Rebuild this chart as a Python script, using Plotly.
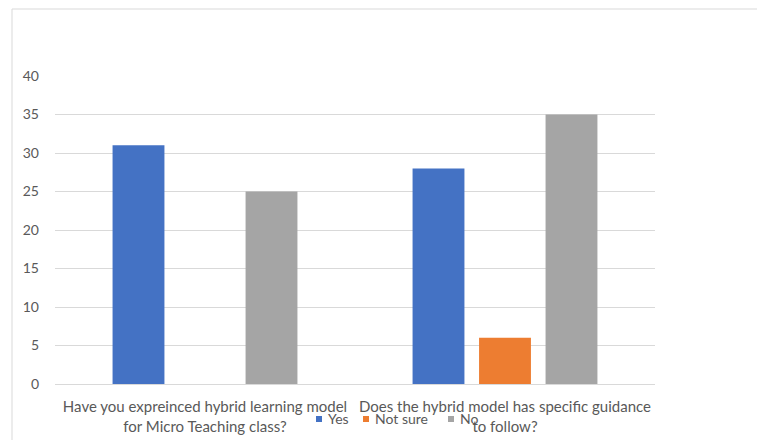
import plotly.graph_objects as go

categories = [
    "Have you expreinced hybrid learning model<br>for Micro Teaching class?",
    "Does the hybrid model has specific guidance<br>to follow?",
]
yes_vals = [31, 28]
not_sure_vals = [0, 6]
no_vals = [25, 35]
y_ticks = [0, 5, 10, 15, 20, 25, 30, 35, 40]

series_names = ["Yes", "Not sure", "No"]
series_values = [yes_vals, not_sure_vals, no_vals]
series_colors = ["#4472C4", "#ED7D31", "#A5A5A5"]

W, H = 757, 440
L, R, T, B = 55, 102, 76, 56
pw, ph = W - L - R, H - T - B
TEXT = "#595959"
LINE = "#D9D9D9"

fig = go.Figure()
for name, vals, color in zip(series_names, series_values, series_colors):
    fig.add_trace(go.Bar(name=name, x=categories, y=vals,
                         marker=dict(color=color, line=dict(width=0))))


def px_x(p):
    return (p - L) / pw


def px_y(p):
    return (H - B - p) / ph


# chart-area frame (top and left edges visible)
shapes = [dict(type="rect", xref="paper", yref="paper",
               x0=px_x(12), x1=px_x(W + 20), y0=px_y(H + 20), y1=px_y(9),
               line=dict(color=LINE, width=1), fillcolor="rgba(0,0,0,0)", layer="below")]
annotations = []

# compact legend below the plot: small square key followed by the series name
key_x = [316, 363, 448]
legend_y = 419
for name, color, kx in zip(series_names, series_colors, key_x):
    shapes.append(dict(type="rect", xref="paper", yref="paper",
                       x0=px_x(kx), x1=px_x(kx + 6), y0=px_y(legend_y + 3), y1=px_y(legend_y - 3),
                       line=dict(width=0), fillcolor=color))
    annotations.append(dict(xref="paper", yref="paper", x=px_x(kx + 10), y=px_y(legend_y),
                            xanchor="left", yanchor="middle", text=name, showarrow=False,
                            font=dict(size=14, color=TEXT)))

fig.update_layout(
    width=W, height=H,
    margin=dict(l=L, r=R, t=T, b=B, autoexpand=False),
    paper_bgcolor="white", plot_bgcolor="white",
    barmode="group", bargap=0.335, bargroupgap=0.22,
    font=dict(family="Lato", size=14, color=TEXT),
    showlegend=False,
    shapes=shapes, annotations=annotations,
    xaxis=dict(showgrid=False, showline=True, linecolor=LINE, linewidth=1,
               ticks="", ticklabelstandoff=9, tickfont=dict(size=15, color=TEXT), fixedrange=True),
    yaxis=dict(range=[0, 40], tickvals=y_ticks, showgrid=True, gridcolor=LINE,
               gridwidth=1, zeroline=False, showline=False, ticks="",
               ticklabelstandoff=15, tickfont=dict(size=14, color=TEXT), fixedrange=True),
)

fig.write_html("out.html")
